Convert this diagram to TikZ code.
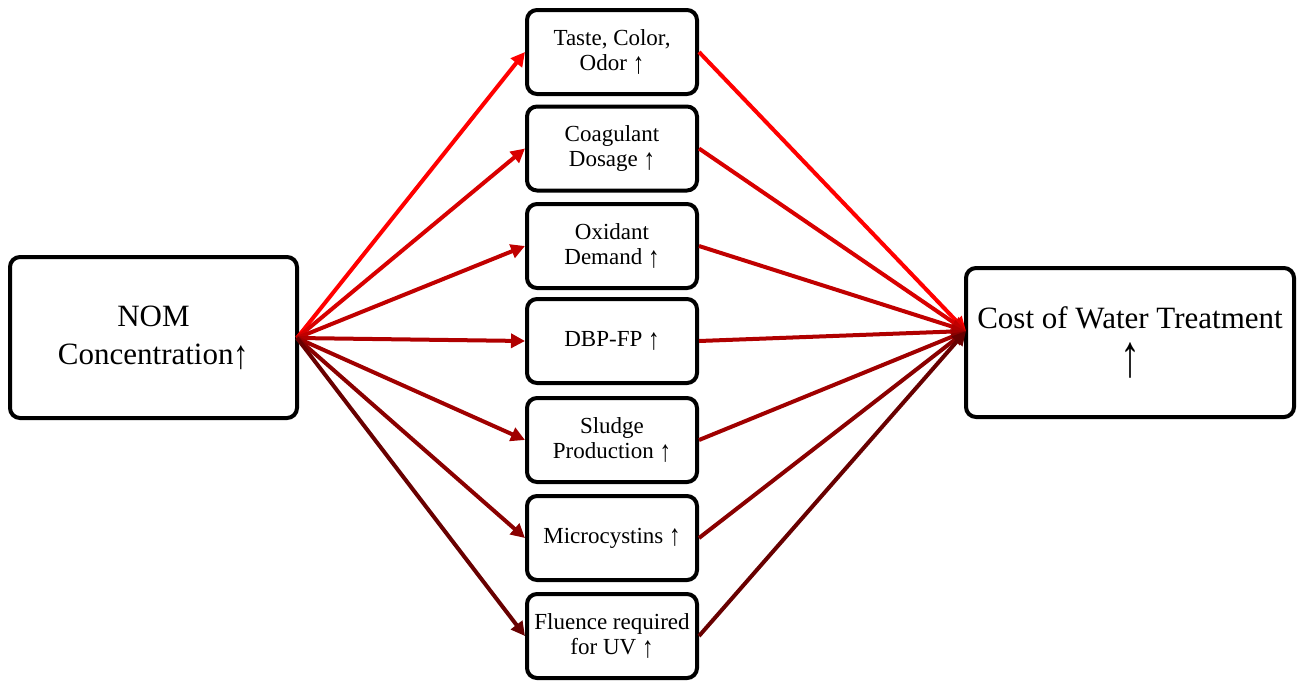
\documentclass[tikz,border=0pt]{standalone}
\usepackage{fontspec}
\usepackage{graphicx}
\setmainfont{Liberation Serif}
\usetikzlibrary{arrows.meta}
\definecolor{c1}{HTML}{FF0000}
\definecolor{c2}{HTML}{D80000}
\definecolor{c3}{HTML}{C00000}
\definecolor{c4}{HTML}{B00000}
\definecolor{c5}{HTML}{A00000}
\definecolor{c6}{HTML}{8A0000}
\definecolor{c7}{HTML}{680000}
\newcommand\uar{\raisebox{-0.12em}{\scalebox{1}[1.3]{↑}}}
\tikzset{
  box/.style={draw=black, line width=4pt, rounded corners=10pt, fill=white, align=center, inner sep=0pt},
  midbox/.style={box, minimum width=170pt, minimum height=84pt, font=\fontsize{23}{25}\selectfont},
  bigbox/.style={box, font=\fontsize{31}{38}\selectfont},
  link/.style={line width=4pt, -{Triangle[length=14pt,width=14pt]}}
}
\begin{document}
\begin{tikzpicture}[x=1pt,y=-1pt]
\useasboundingbox (0,0) rectangle (1305,681);
\node[bigbox, minimum width=287pt, minimum height=161pt] (nom) at (153.5,337.5) {NOM\\Concentration\uar};
\node[bigbox, minimum width=328pt, minimum height=149pt] (cost) at (1130,342.5) {Cost of Water Treatment\\[10pt]\scalebox{1}[1.5]{\fontsize{40}{40}\selectfont↑}};
\node[midbox] (m1) at (612,52) {Taste, Color,\\Odor \uar};
\node[midbox] (m2) at (612,148.5) {Coagulant\\Dosage \uar};
\node[midbox] (m3) at (612,246) {Oxidant\\Demand \uar};
\node[midbox] (m4) at (612,341) {DBP-FP \uar};
\node[midbox] (m5) at (612,440) {Sludge\\Production \uar};
\node[midbox] (m6) at (612,538) {Microcystins \uar};
\node[midbox] (m7) at (612,636) {Fluence required\\for UV \uar};
\coordinate (src) at (297,338);
\coordinate (dst) at (966,331);
\foreach \i/\c in {1/c1,2/c2,3/c3,4/c4,5/c5,6/c6,7/c7}{
  \draw[link, draw=\c, fill=\c] (src) -- (m\i.west);
  \draw[link, draw=\c, fill=\c] (m\i.east) -- (dst);
}
\end{tikzpicture}
\end{document}
